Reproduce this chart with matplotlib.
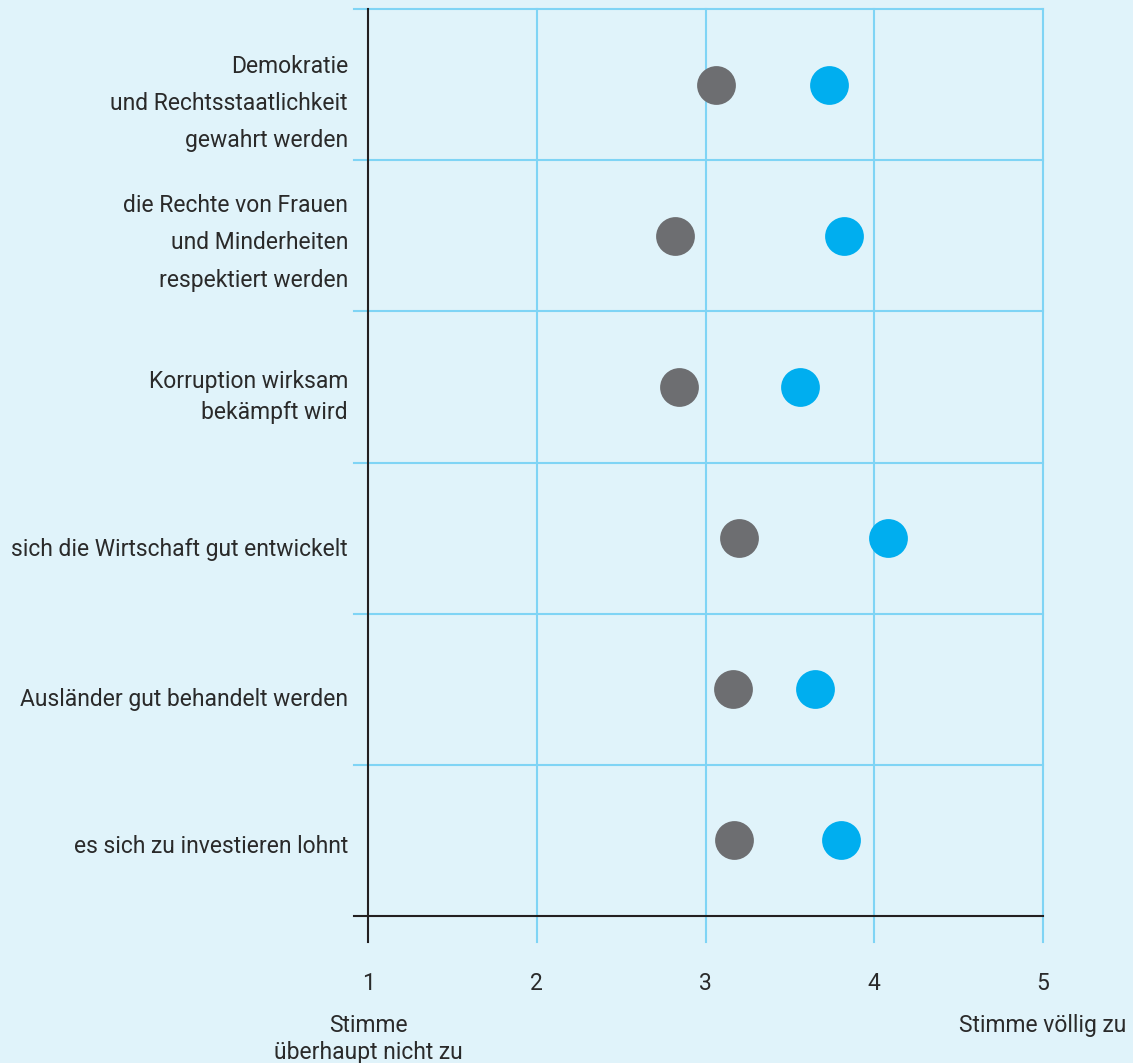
import matplotlib
matplotlib.use('Agg')
import matplotlib.pyplot as plt

# Daten
categories = [
    "Demokratie\nund Rechtsstaatlichkeit\ngewahrt werden",
    "die Rechte von Frauen\nund Minderheiten\nrespektiert werden",
    "Korruption wirksam\nbekämpft wird",
    "sich die Wirtschaft gut entwickelt",
    "Ausländer gut behandelt werden",
    "es sich zu investieren lohnt",
]
grey_values = [3.06, 2.82, 2.84, 3.20, 3.16, 3.17]
blue_values = [3.73, 3.82, 3.56, 4.08, 3.65, 3.80]
x_ticks = [1, 2, 3, 4, 5]

# Layout der Beschriftungen (Pixel-Versatz zur Zeilenmitte, Zeilenabstand)
label_shift = [19, 7, 10, 11, 10, 6]
label_spacing = [1.8, 1.8, 1.45, 1.2, 1.2, 1.2]

BG = '#e0f3fa'
GRID = '#7fd4f5'
GREY = '#6d6e71'
BLUE = '#00aeef'
BLACK = '#231f20'
TEXT = '#2a2a2a'

plt.rcParams['font.family'] = ['Roboto', 'DejaVu Sans']
FS = 16.5

fig = plt.figure(figsize=(11.33, 10.63), dpi=100, facecolor=BG)
ax = fig.add_axes([354 / 1133, 1 - 916 / 1063, 689 / 1133, 907 / 1063])
ax.set_facecolor(BG)

n = len(categories)
px = n / 907  # Datenhöhe pro Pixel
ax.set_xlim(1 - 14 / 168.75, 5)
ax.set_ylim(n, 0)

for s in ax.spines.values():
    s.set_visible(False)
ax.set_xticks([])
ax.set_yticks([])

ext = 26 * px  # Verlängerung unter die Achse

# Gitter vertikal
for x in x_ticks[1:]:
    ax.plot([x, x], [0, n + ext], color=GRID, lw=1.5, clip_on=False, zorder=1)
# Gitter horizontal
for i in range(n):
    ax.plot([ax.get_xlim()[0], 5], [i, i], color=GRID, lw=1.5, clip_on=False, zorder=1)

# Achsen
ax.plot([1, 1], [0, n + ext], color=BLACK, lw=1.5, clip_on=False, zorder=2)
ax.plot([ax.get_xlim()[0], 5], [n, n], color=BLACK, lw=1.5, clip_on=False, zorder=2)

ys = [i + 0.5 for i in range(n)]
ax.scatter(grey_values, ys, s=780, color=GREY, zorder=3, linewidths=0)
ax.scatter(blue_values, ys, s=780, color=BLUE, zorder=3, linewidths=0)

# Kategorien
for y, label, sh, ls in zip(ys, categories, label_shift, label_spacing):
    ax.text(1 - 20 / 168.75, y + sh * px, label, ha='right', va='center',
            fontsize=FS, color=TEXT, linespacing=ls)

# Tick labels
for x in x_ticks:
    ax.text(x, n + 67 * px, str(x), ha='center', va='center',
            fontsize=FS, color=TEXT)

ax.text(1, n + 98 * px, "Stimme\nüberhaupt nicht zu", ha='center', va='top',
        fontsize=FS, color=TEXT, linespacing=1.25)
ax.text(5, n + 98 * px, "Stimme völlig zu", ha='center', va='top',
        fontsize=FS, color=TEXT)

fig.savefig('out.png', dpi=100, facecolor=BG)
